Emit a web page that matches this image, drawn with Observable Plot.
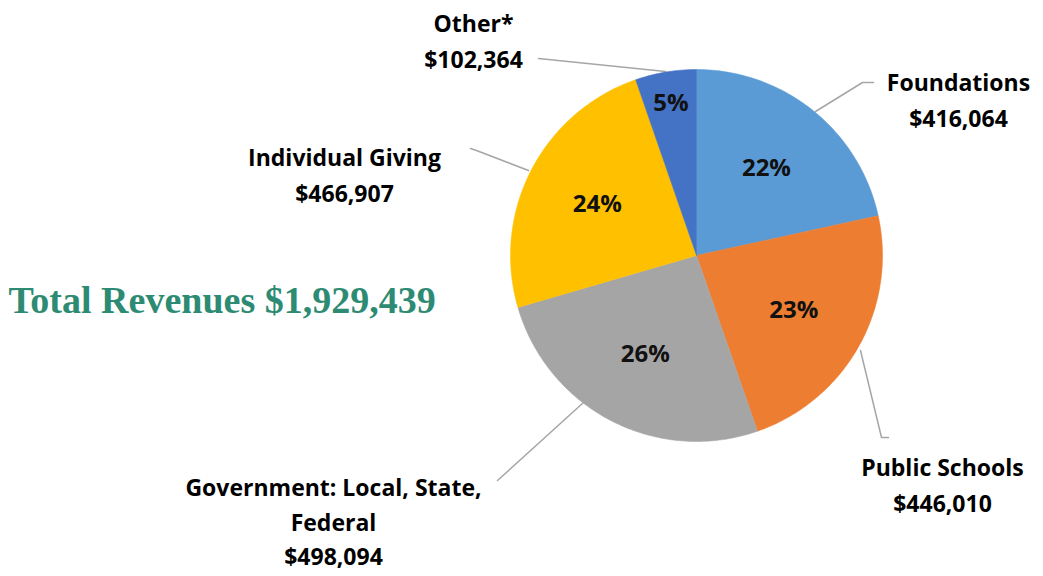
<!DOCTYPE html>
<html>
<head>
<meta charset="utf-8">
<script src="https://cdn.jsdelivr.net/npm/d3@7"></script>
<script src="https://cdn.jsdelivr.net/npm/@observablehq/plot@0.6"></script>
<style>
  html, body { margin: 0; padding: 0; background: #ffffff; }
  #chart svg { display: block; }
</style>
</head>
<body>
<div id="chart"></div>
<script>
// ---- data ----
const categories = ["Foundations", "Public Schools", "Government: Local, State,\nFederal", "Individual Giving", "Other*"];
const keys = ["Foundations", "Public Schools", "Government", "Individual Giving", "Other*"];
const amounts = [416064, 446010, 498094, 466907, 102364];
const percentLabels = ["22%", "23%", "26%", "24%", "5%"];
const amountLabels = ["$416,064", "$446,010", "$498,094", "$466,907", "$102,364"];
const colors = ["#5B9BD5", "#ED7D31", "#A5A5A5", "#FFC000", "#4472C4"];
const totalLabel = "Total Revenues $1,929,439";

// ---- layout (pixel-space) ----
const W = 1043, H = 576;
const cx = 696, cy = 255, R = 186;
const outer = {
  "Foundations":       {x: 958, y: 97,  lh: 1.55, leader: [[873, 82], [862, 82], [815, 111]]},
  "Public Schools":    {x: 942, y: 482, lh: 1.55, leader: [[860, 350], [881, 437], [888, 437]]},
  "Government":        {x: 333, y: 519, lh: 1.5,  leader: [[497, 480], [583, 402]]},
  "Individual Giving": {x: 344, y: 172, lh: 1.55, leader: [[470, 148], [476, 150], [528, 170]]},
  "Other*":            {x: 473, y: 38,  lh: 1.55, leader: [[538, 58], [665, 71]]}
};

const total = d3.sum(amounts);
let acc = 0;
const slices = keys.map((k, i) => {
  const a0 = acc / total * 2 * Math.PI;
  acc += amounts[i];
  const a1 = acc / total * 2 * Math.PI;
  return {key: k, i, a0, a1, mid: (a0 + a1) / 2, frac: amounts[i] / total};
});

// polygon vertices for each slice
const verts = [];
for (const s of slices) {
  verts.push({key: s.key, x: cx, y: cy});
  const n = Math.max(8, Math.ceil((s.a1 - s.a0) / (Math.PI / 180)));
  for (let j = 0; j <= n; j++) {
    const a = s.a0 + (s.a1 - s.a0) * j / n;
    verts.push({key: s.key, x: cx + R * Math.sin(a), y: cy - R * Math.cos(a)});
  }
  verts.push({key: s.key, x: cx, y: cy});
}

const pctData = slices.map(s => {
  const r = s.frac < 0.1 ? 0.83 * R : 0.6 * R;
  return {text: percentLabels[s.i], x: cx + r * Math.sin(s.mid), y: cy - r * Math.cos(s.mid)};
});

const leaderData = [];
keys.forEach(k => outer[k].leader.forEach(p => leaderData.push({key: k, x: p[0], y: p[1]})));

const outerText = keys.map((k, i) => ({
  text: categories[i] + "\n" + amountLabels[i],
  x: outer[k].x, y: outer[k].y, lh: outer[k].lh
}));

const textMarks = outerText.map(d =>
  Plot.text([d], {x: "x", y: "y", text: "text", fontSize: 23, fontWeight: "bold",
    fontFamily: "'Open Sans', Lato, sans-serif", fill: "#000000", textAnchor: "middle", lineHeight: d.lh})
);

const chart = Plot.plot({
  width: W, height: H,
  margin: 0,
  x: {domain: [0, W], range: [0, W], axis: null},
  y: {domain: [0, H], range: [0, H], axis: null},
  color: {domain: keys, range: colors},
  style: {background: "#ffffff"},
  marks: [
    Plot.line(leaderData, {x: "x", y: "y", z: "key", stroke: "#A6A6A6", strokeWidth: 1.5}),
    Plot.line(verts, {x: "x", y: "y", z: "key", fill: "key", stroke: "key", strokeWidth: 0.5, curve: "linear"}),
    Plot.text(pctData, {x: "x", y: "y", text: "text", fontSize: 24, fontWeight: "bold",
      fontFamily: "'Open Sans', Lato, sans-serif", fill: "#111111", textAnchor: "middle"}),
    ...textMarks,
    Plot.text([totalLabel], {x: 8, y: 300, text: d => d, fontSize: 38, fontWeight: "bold",
      fontFamily: "'Liberation Serif', 'DejaVu Serif', serif", fill: "#2E8B73", textAnchor: "start"})
  ]
});
document.getElementById("chart").appendChild(chart);
</script>
</body>
</html>
